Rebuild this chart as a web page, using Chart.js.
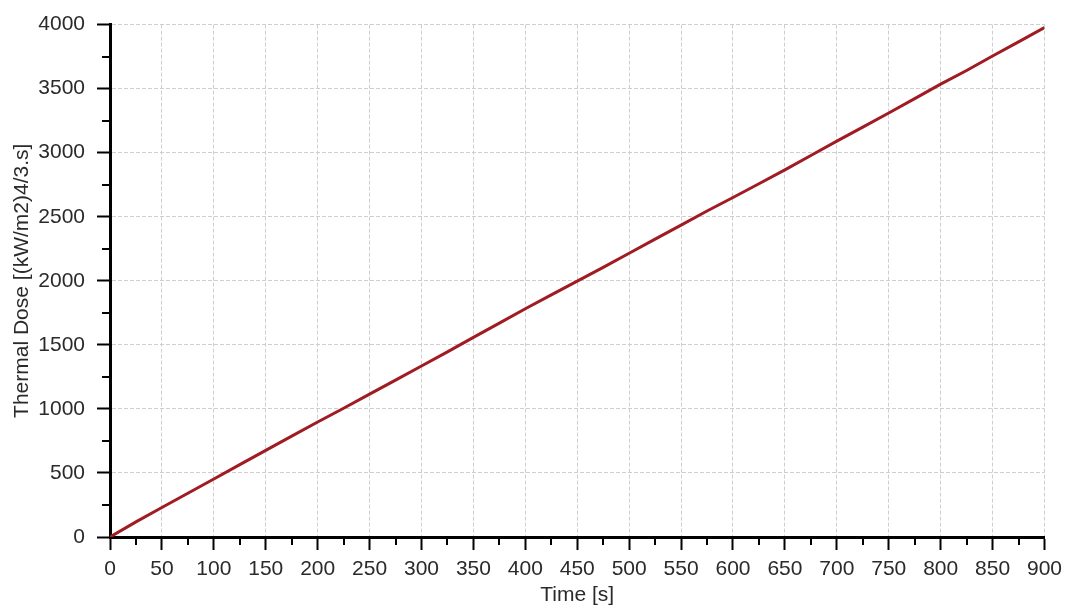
<!DOCTYPE html>
<html>
<head>
<meta charset="utf-8">
<script src="https://cdn.jsdelivr.net/npm/chart.js@4/dist/chart.umd.min.js"></script>
<style>
  html, body { margin: 0; padding: 0; background: #ffffff; }
  #wrap { width: 1069px; height: 610px; position: relative; }
</style>
</head>
<body>
<div id="wrap"><canvas id="c" width="1069" height="610"></canvas></div>
<script>
// Elapsed time [s]
const timeSeconds = [0, 25, 50, 75, 100, 125, 150, 175, 200, 225, 250, 275, 300,
  325, 350, 375, 400, 425, 450, 475, 500, 525, 550, 575, 600, 625, 650, 675, 700,
  725, 750, 775, 800, 825, 850, 875, 900];

// Accumulated thermal dose [(kW/m2)^(4/3).s]
const thermalDose = [0, 118, 230, 342, 453, 565, 676, 787, 898, 1005, 1115, 1225, 1335,
  1445, 1558, 1670, 1782, 1890, 1997, 2105, 2215, 2325, 2435, 2545, 2650, 2758, 2866, 2978, 3090,
  3200, 3310, 3422, 3535, 3642, 3755, 3865, 3977];

// Axis settings
const xMin = 0, xMax = 900, xStep = 25, xLabelStep = 50;
const yMin = 0, yMax = 4000, yStep = 250, yLabelStep = 500;

const xTitle = 'Time [s]';
const yTitle = 'Thermal Dose [(kW/m2)4/3.s]';

const FONT = "'Liberation Sans', Arial, sans-serif";
const TEXT = '#2a2a2a';
const GRID = '#cfcfcf';

const points = timeSeconds.map((t, i) => ({ x: t, y: thermalDose[i] }));

// Short minor tick marks between the labelled (major) ticks
const minorTicks = {
  id: 'minorTicks',
  afterDraw(chart) {
    const ctx = chart.ctx;
    const xs = chart.scales.x, ys = chart.scales.y;
    ctx.save();
    ctx.strokeStyle = '#000';
    ctx.lineWidth = 2;
    ctx.beginPath();
    xs.ticks.forEach(t => {
      if (t.value % xLabelStep !== 0) {
        const px = Math.round(xs.getPixelForValue(t.value));
        ctx.moveTo(px, xs.top);
        ctx.lineTo(px, xs.top + 8);
      }
    });
    ys.ticks.forEach(t => {
      if (t.value % yLabelStep !== 0) {
        const py = Math.round(ys.getPixelForValue(t.value));
        ctx.moveTo(ys.right, py);
        ctx.lineTo(ys.right - 8, py);
      }
    });
    ctx.stroke();
    ctx.restore();
  }
};

new Chart(document.getElementById('c'), {
  type: 'line',
  data: {
    datasets: [{
      data: points,
      borderColor: '#a01b22',
      borderWidth: 3,
      pointRadius: 0,
      tension: 0,
      fill: false
    }]
  },
  options: {
    responsive: false,
    animation: false,
    devicePixelRatio: 1,
    layout: { padding: { left: 10, right: 22, top: 23, bottom: 2 } },
    plugins: { legend: { display: false }, tooltip: { enabled: false } },
    scales: {
      x: {
        type: 'linear',
        min: xMin, max: xMax,
        afterFit(scale) { scale.height = 71; },
        ticks: {
          stepSize: xStep,
          autoSkip: false,
          maxRotation: 0,
          padding: 7,
          color: TEXT,
          font: { family: FONT, size: 21 },
          callback: v => (v % xLabelStep === 0 ? String(v) : '')
        },
        grid: {
          color: c => (c.tick && c.tick.value % xLabelStep === 0 ? GRID : 'rgba(0,0,0,0)'),
          lineWidth: 1,
          tickLength: 13,
          tickWidth: 2,
          tickColor: c => (c.tick && c.tick.value % xLabelStep === 0 ? '#000' : 'rgba(0,0,0,0)')
        },
        border: { display: true, color: '#000', width: 3, dash: [4, 2] },
        title: {
          display: true,
          text: xTitle,
          color: TEXT,
          font: { family: FONT, size: 21 },
          padding: 0
        }
      },
      y: {
        type: 'linear',
        min: yMin, max: yMax,
        afterFit(scale) { scale.width = 100; },
        ticks: {
          stepSize: yStep,
          autoSkip: false,
          padding: 12,
          color: TEXT,
          font: { family: FONT, size: 21 },
          callback: v => (v % yLabelStep === 0 ? String(v) : '')
        },
        grid: {
          color: c => (c.tick && c.tick.value % yLabelStep === 0 ? GRID : 'rgba(0,0,0,0)'),
          lineWidth: 1,
          tickLength: 13,
          tickWidth: 2,
          tickColor: c => (c.tick && c.tick.value % yLabelStep === 0 ? '#000' : 'rgba(0,0,0,0)')
        },
        border: { display: true, color: '#000', width: 3, dash: [4, 2] },
        title: {
          display: true,
          text: yTitle,
          color: TEXT,
          font: { family: FONT, size: 21 },
          padding: 0
        }
      }
    }
  },
  plugins: [minorTicks]
});
</script>
</body>
</html>
